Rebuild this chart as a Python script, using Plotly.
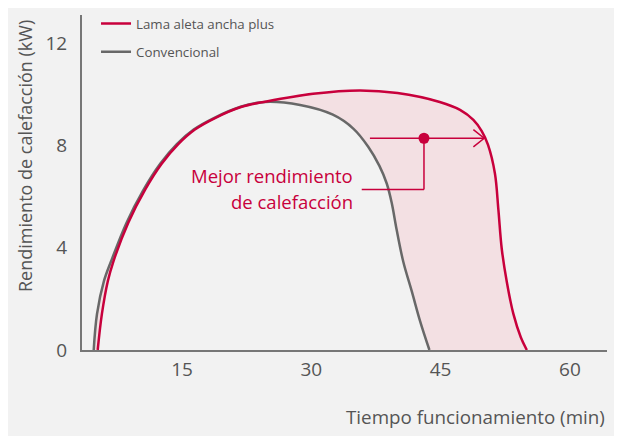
import plotly.graph_objects as go

# valores (min, kW)
red_x = [5.22, 5.71, 6.4, 7.03, 8.77, 10.71, 12.64, 14.57, 16.5, 18.83, 21.93, 24.8, 30.2,
         35.6, 40.0, 44.9, 47.25, 48.8, 49.77, 50.5, 51.3, 51.7, 52.09, 52.67, 53.44, 54.3, 55.0]
red_y = [0, 1.41, 2.7, 3.45, 4.98, 6.26, 7.28, 8.05, 8.62, 9.07, 9.51, 9.72, 10.02,
         10.15, 10.05, 9.70, 9.39, 9.0, 8.56, 8.02, 6.9, 5.49, 3.96, 2.68, 1.41, 0.5, 0]

gray_x = [4.76, 5.14, 5.95, 6.75, 8.57, 10.53, 12.47, 14.4, 16.35, 18.7, 21.8, 24.6, 28.7,
          32.5, 34.9, 36.6, 37.9, 38.75, 39.33, 39.9, 40.67, 41.65, 42.6, 43.7]
gray_y = [0, 1.41, 2.7, 3.45, 4.98, 6.26, 7.28, 8.05, 8.62, 9.07, 9.51, 9.7, 9.58,
          9.2, 8.65, 7.95, 7.2, 6.51, 5.75, 4.7, 3.45, 2.30, 1.15, 0]

x_ticks = [15, 30, 45, 60]
y_ticks = [0, 4, 8, 12]

RED = '#c8003c'
GRAY = '#686868'
TXT = '#555555'
BG = '#f2f2f2'
FONT = 'Open Sans'

fig = go.Figure()

# relleno entre curvas
fig.add_trace(go.Scatter(x=gray_x, y=gray_y, mode='lines', line=dict(width=0, shape='spline'),
                         showlegend=False, hoverinfo='skip'))
fig.add_trace(go.Scatter(x=red_x, y=red_y, mode='lines', line=dict(width=0, shape='spline'),
                         fill='tonexty', fillcolor='#f3e0e3', showlegend=False, hoverinfo='skip'))

fig.add_trace(go.Scatter(x=gray_x, y=gray_y, mode='lines', name='Convencional',
                         line=dict(color=GRAY, width=2.5, shape='spline'),
                         legendgroup='b', legendrank=2))
fig.add_trace(go.Scatter(x=red_x, y=red_y, mode='lines', name='Lama aleta ancha plus',
                         line=dict(color=RED, width=2.5, shape='spline'),
                         legendgroup='a', legendrank=1))

# flecha y conector de la nota
arrow_y = 8.28
dot_x = 43.07
fig.add_shape(type='line', x0=36.8, x1=50.05, y0=arrow_y, y1=arrow_y, line=dict(color=RED, width=1.5))
fig.add_shape(type='path', path=f'M 48.8 {arrow_y + 0.34} L 50.05 {arrow_y} L 48.8 {arrow_y - 0.34}',
              line=dict(color=RED, width=1.5))
fig.add_shape(type='line', x0=dot_x, x1=dot_x, y0=arrow_y, y1=6.28, line=dict(color=RED, width=1.5))
fig.add_shape(type='line', x0=35.85, x1=dot_x, y0=6.28, y1=6.28, line=dict(color=RED, width=1.5))
fig.add_trace(go.Scatter(x=[dot_x], y=[arrow_y], mode='markers', marker=dict(color=RED, size=11),
                         showlegend=False, hoverinfo='skip'))

fig.add_annotation(x=35.1, y=6.82, text='Mejor rendimiento', showarrow=False, xanchor='right',
                   font=dict(family=FONT, size=18.5, color=RED))
fig.add_annotation(x=35.1, y=5.82, text='de calefacción', showarrow=False, xanchor='right',
                   font=dict(family=FONT, size=18.5, color=RED))

# títulos de ejes
fig.add_annotation(xref='paper', yref='paper', x=1.0, y=-0.199, text='Tiempo funcionamiento (min)',
                   showarrow=False, xanchor='right', yanchor='middle',
                   font=dict(family=FONT, size=18.8, color=TXT))
fig.add_annotation(xref='paper', yref='paper', x=-0.1086, y=0.579, text='Rendimiento de calefacción (kW)',
                   showarrow=False, textangle=-90, xanchor='center', yanchor='middle',
                   font=dict(family=FONT, size=18, color=TXT))

fig.update_layout(
    width=622, height=436,
    margin=dict(l=74, r=23, t=0, b=94),
    paper_bgcolor=BG, plot_bgcolor=BG,
    font=dict(family=FONT, color=TXT),
    legend=dict(x=0.0267, y=1.02, xanchor='left', yanchor='top', bgcolor='rgba(0,0,0,0)',
                font=dict(size=13.3, color=TXT), traceorder='grouped', tracegroupgap=8),
    xaxis=dict(range=[3.4, 64.3], tickvals=x_ticks, showgrid=False, zeroline=False,
               showline=True, linecolor='#777', linewidth=2, ticks='',
               tickfont=dict(size=19, color=TXT), ticklabelstandoff=1),
    yaxis=dict(range=[0, 13.1], tickvals=y_ticks, showgrid=False, zeroline=False,
               showline=True, linecolor='#777', linewidth=2, ticks='',
               tickfont=dict(size=19, color=TXT), ticklabelstandoff=9),
)

fig.write_html('out.html')
